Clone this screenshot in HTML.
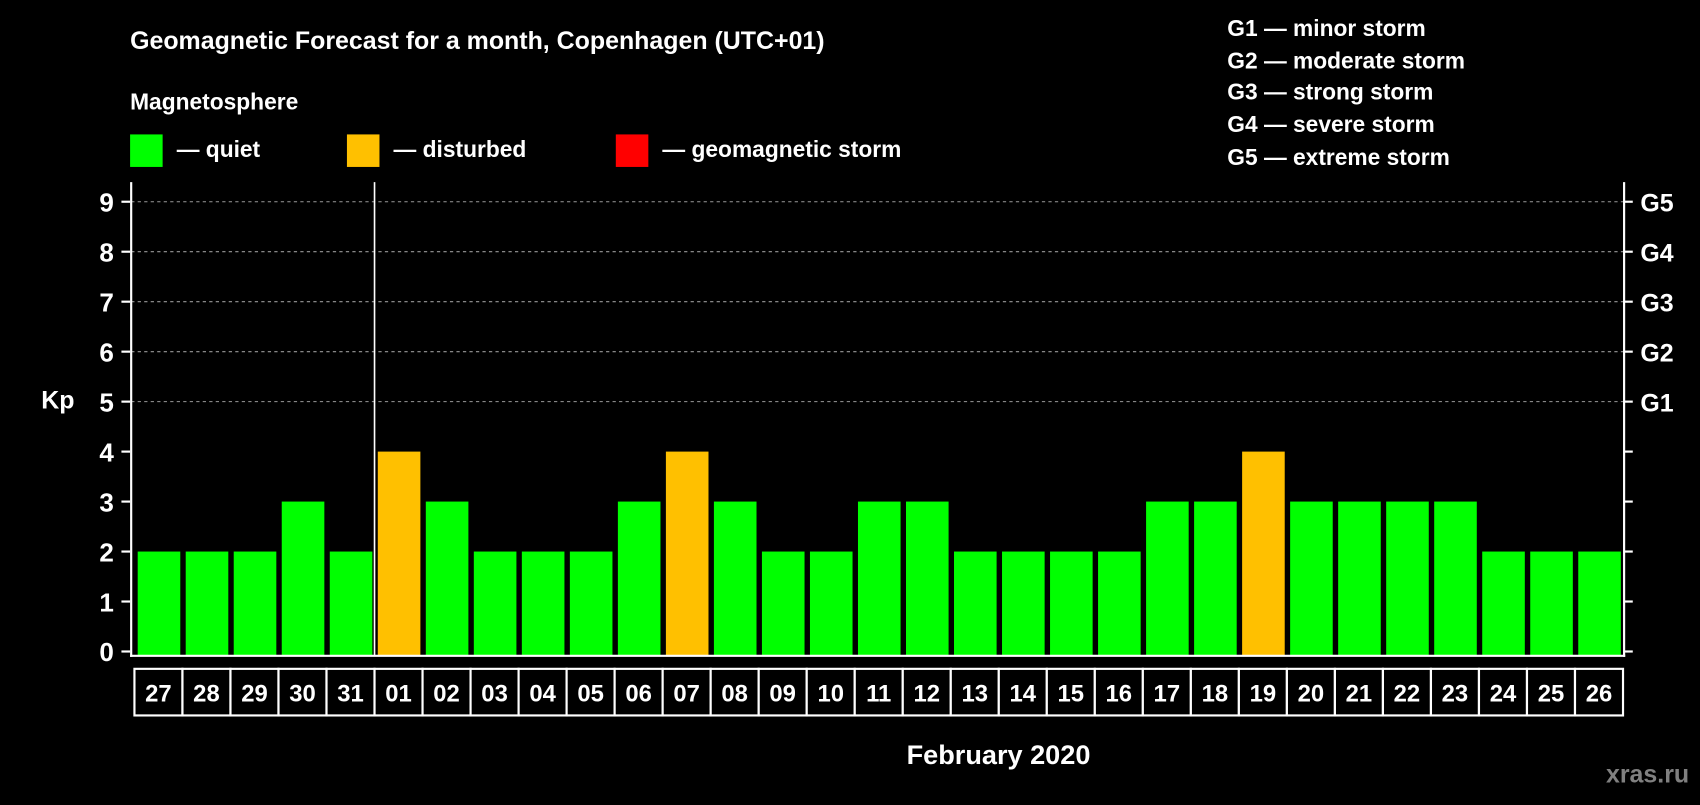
<!DOCTYPE html>
<html><head><meta charset="utf-8"><style>
html,body{margin:0;padding:0;background:#000;width:1700px;height:800px;overflow:hidden}
#wrap{position:absolute;left:0;top:0;width:1568px;height:738px;transform:scale(1.08418,1.08401);transform-origin:0 0}
text{font-family:"Liberation Sans",Arial,sans-serif;font-weight:bold;fill:#fff}
</style></head><body>
<div id="wrap">
<svg id="chart" width="1568" height="738">
<text x="120" y="45" font-size="23">Geomagnetic Forecast for a month, Copenhagen (UTC+01)</text>
<text x="120" y="101" font-size="21">Magnetosphere</text>
<rect x="120" y="124" width="30" height="30" fill="#00ff00"/>
<text x="163" y="145" font-size="21">— quiet</text>
<rect x="320" y="124" width="30" height="30" fill="#ffc000"/>
<text x="363" y="145" font-size="21">— disturbed</text>
<rect x="568" y="124" width="30" height="30" fill="#ff0000"/>
<text x="611" y="145" font-size="21">— geomagnetic storm</text>
<text x="1132" y="33" font-size="21">G1 — minor storm</text>
<text x="1132" y="63" font-size="21">G2 — moderate storm</text>
<text x="1132" y="92" font-size="21">G3 — strong storm</text>
<text x="1132" y="122" font-size="21">G4 — severe storm</text>
<text x="1132" y="152" font-size="21">G5 — extreme storm</text>
<text x="38" y="377" font-size="23">Kp</text>
<text x="921" y="705" font-size="25" text-anchor="middle">February 2020</text>
<text x="1558" y="722" font-size="23" text-anchor="end" style="fill:#808080">xras.ru</text>
<g id="plot"></g>
</svg></div>
<script>
const categories=["27","28","29","30","31","01","02","03","04","05","06","07","08","09","10","11","12","13","14","15","16","17","18","19","20","21","22","23","24","25","26"];
const kpValues=[2,2,2,3,2,4,3,2,2,2,3,4,3,2,2,3,3,2,2,2,2,3,3,4,3,3,3,3,2,2,2];
const yTicks=[0,1,2,3,4,5,6,7,8,9];
const gLabels=["G1","G2","G3","G4","G5"];
const gLevels=[5,6,7,8,9];
const NS="http://www.w3.org/2000/svg";
const g=document.getElementById('plot');
const x0=124,x1=1497,yBase=605;
const step=(x1-x0)/categories.length;
function xs(i){return x0+i*step;}
function ys(v){return 601-v*46.1;}
function mk(t,a){const e=document.createElementNS(NS,t);for(const k in a)e.setAttribute(k,a[k]);g.appendChild(e);return e;}
gLevels.forEach((v,i)=>{
 const l=mk('line',{x1:121,x2:1497,y1:ys(v),y2:ys(v),stroke:'#999','stroke-dasharray':'3,3','stroke-width':1});
 
 
 const t=mk('text',{x:1513,y:ys(v)+9,'font-size':23});t.textContent=gLabels[i];
 
 
});
kpValues.forEach((v,i)=>{
 const c=v>=5?'#ff0000':(v>=4?'#ffc000':'#00ff00');
 const b=mk('rect',{x:xs(i)+3,y:ys(v),width:step-5,height:yBase-ys(v),fill:c});
 
 
 const r=mk('rect',{x:xs(i),y:617,width:step,height:43,fill:'#000',stroke:'#fff','stroke-width':2});
 
 
 const t=mk('text',{x:xs(i)+step/2,y:647,'font-size':22,'text-anchor':'middle'});t.textContent=categories[i];
 
 
});
yTicks.forEach(v=>{
 const t=mk('text',{x:105,y:ys(v)+9,'font-size':24,'text-anchor':'end'});t.textContent=v;
 
 
 const l=mk('line',{x1:112,x2:120,y1:ys(v),y2:ys(v),stroke:'#fff','stroke-width':2});
 
 
 const r=mk('line',{x1:1498,x2:1506,y1:ys(v),y2:ys(v),stroke:'#fff','stroke-width':2});
 
 
});
const la=mk('line',{x1:121,x2:121,y1:168,y2:606,stroke:'#fff','stroke-width':2});

const ra=mk('line',{x1:1498,x2:1498,y1:168,y2:606,stroke:'#fff','stroke-width':2});

const ba=mk('line',{x1:120,x2:1499,y1:605,y2:605,stroke:'#fff','stroke-width':2});

const sep=mk('line',{x1:xs(5),x2:xs(5),y1:168,y2:605,stroke:'#fff','stroke-width':1.5});

</script>
</body></html>
